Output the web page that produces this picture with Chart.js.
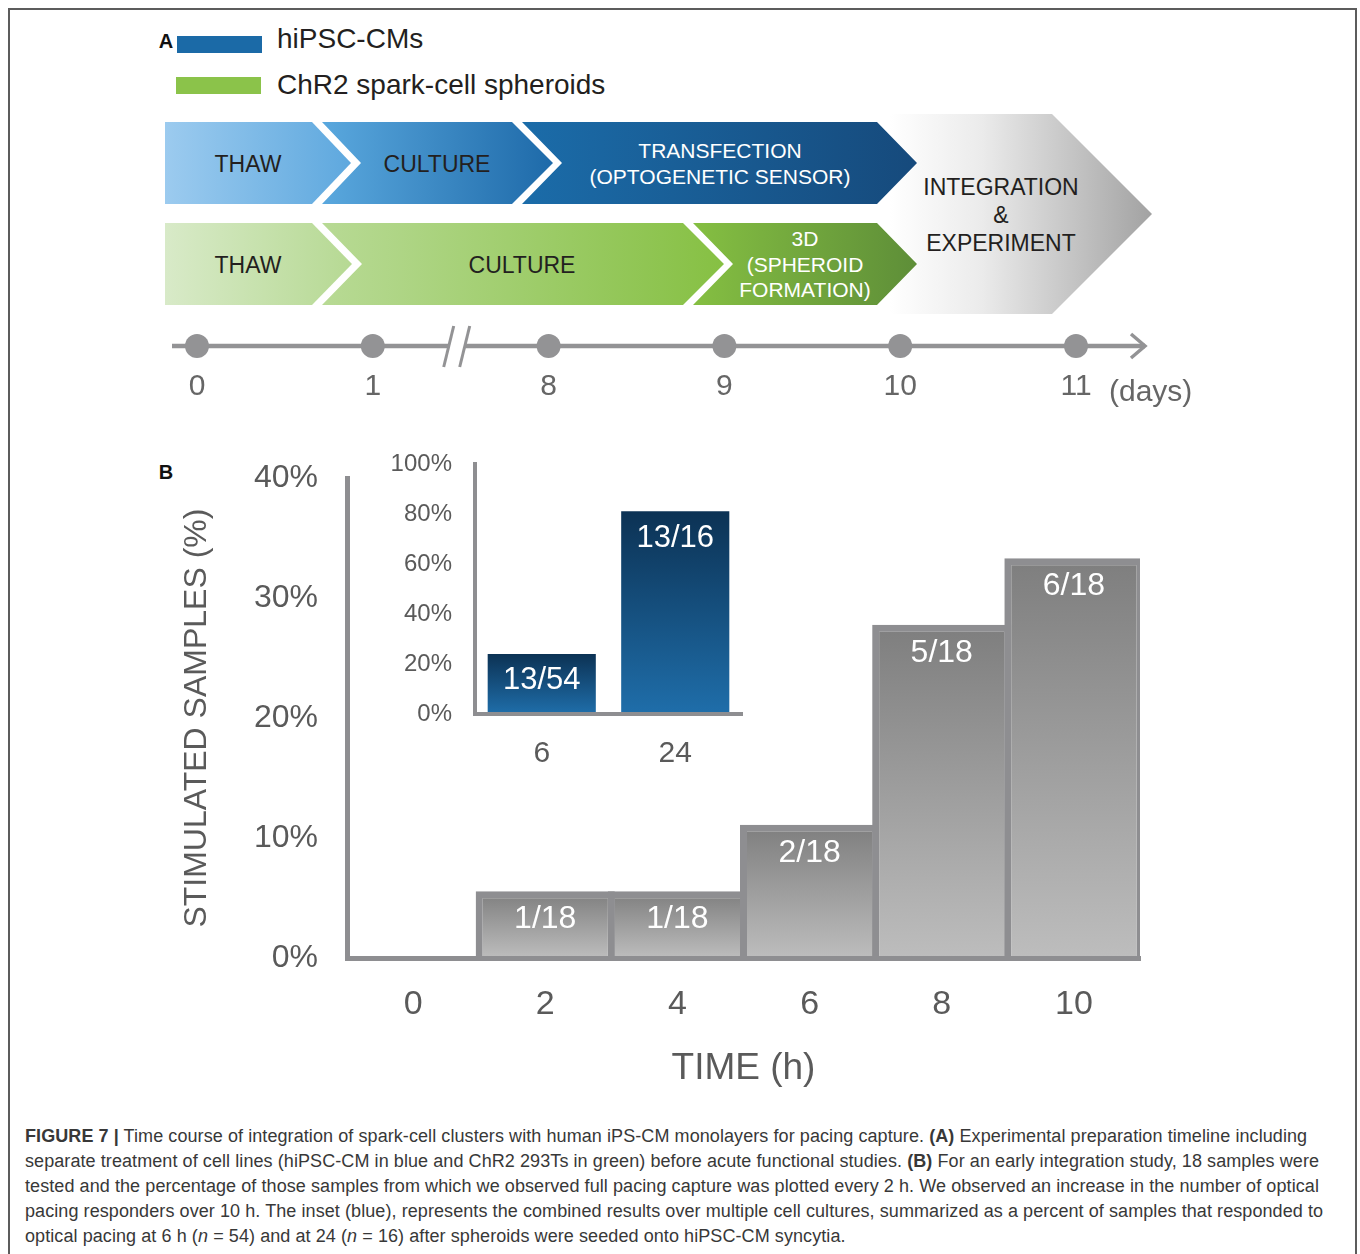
<!DOCTYPE html>
<html>
<head>
<meta charset="utf-8">
<script src="https://cdn.jsdelivr.net/npm/chart.js@4.4.0/dist/chart.umd.min.js"></script>
<style>
  body { margin: 0; background: #fff; font-family: 'Liberation Sans', Arial, sans-serif; }
  #page { position: relative; width: 1360px; height: 1254px; overflow: hidden; }
  .frame { position: absolute; left: 8px; top: 8px; width: 1349px; height: 1300px; border: 2px solid #5c5c5c; box-sizing: border-box; }
  .abs { position: absolute; }
  .lbl { position: absolute; transform: translate(-50%, -50%); text-align: center; white-space: nowrap; }
  .dark { color: #231f20; font-size: 23px; }
  .light { color: #fff; font-size: 21px; }
  .chev { position: absolute; }
  .caption { position: absolute; left: 25px; top: 1124px; font-size: 18px; letter-spacing: 0.08px; line-height: 25px; color: #383838; white-space: nowrap; }
  canvas { position: absolute; }
</style>
</head>
<body>
<div id="page">
  <div class="frame"></div>

  <!-- panel A: legend -->
  <div class="lbl" style="left:166px;top:41px;font-weight:bold;font-size:20px;color:#111;">A</div>
  <div class="abs" style="left:177px;top:36px;width:85px;height:17px;background:#1b6aa7;"></div>
  <div class="abs" style="left:176px;top:77px;width:85px;height:17px;background:#8bc34a;"></div>
  <div class="abs" style="left:277px;top:23px;font-size:28px;color:#231f20;">hiPSC-CMs</div>
  <div class="abs" style="left:277px;top:69px;font-size:28px;color:#231f20;">ChR2 spark-cell spheroids</div>

  <!-- panel A: chevrons -->
  <div class="chev" style="left:890px;top:114px;width:262px;height:200px;
       background:linear-gradient(to right,#ffffff 0%,#ebebeb 35%,#c4c4c4 70%,#a2a2a2 100%);
       clip-path:polygon(0 0,162px 0,100% 50%,162px 100%,0 100%);"></div>

  <div class="chev" style="left:165px;top:122px;width:186px;height:82px;
       background:linear-gradient(to right,#9ccbef,#5ea8de);
       clip-path:polygon(0 0,147px 0,100% 50%,147px 100%,0 100%);"></div>
  <div class="chev" style="left:322px;top:122px;width:231px;height:82px;
       background:linear-gradient(to right,#5aa8de,#1e6aa9);
       clip-path:polygon(0 0,190px 0,100% 50%,190px 100%,0 100%,39px 50%);"></div>
  <div class="chev" style="left:522px;top:122px;width:395px;height:82px;
       background:linear-gradient(to right,#1b6ca9,#164a7c);
       clip-path:polygon(0 0,355px 0,100% 50%,355px 100%,0 100%,40px 50%);"></div>

  <div class="chev" style="left:165px;top:223px;width:187px;height:82px;
       background:linear-gradient(to right,#d8eac8,#b6d993);
       clip-path:polygon(0 0,147px 0,100% 50%,147px 100%,0 100%);"></div>
  <div class="chev" style="left:322px;top:223px;width:402px;height:82px;
       background:linear-gradient(to right,#b8da95,#86c043);
       clip-path:polygon(0 0,361px 0,100% 50%,361px 100%,0 100%,40px 50%);"></div>
  <div class="chev" style="left:693px;top:223px;width:224px;height:82px;
       background:linear-gradient(to right,#85bf42,#5e8e38);
       clip-path:polygon(0 0,184px 0,100% 50%,184px 100%,0 100%,40px 50%);"></div>

  <div class="lbl dark" style="left:248px;top:164px;">THAW</div>
  <div class="lbl dark" style="left:437px;top:164px;">CULTURE</div>
  <div class="lbl light" style="left:720px;top:164px;line-height:26px;">TRANSFECTION<br>(OPTOGENETIC SENSOR)</div>
  <div class="lbl dark" style="left:248px;top:265px;">THAW</div>
  <div class="lbl dark" style="left:522px;top:265px;">CULTURE</div>
  <div class="lbl light" style="left:805px;top:264px;line-height:25.5px;">3D<br>(SPHEROID<br>FORMATION)</div>
  <div class="lbl dark" style="left:1001px;top:215px;line-height:28px;">INTEGRATION<br>&amp;<br>EXPERIMENT</div>

  <!-- panel A: timeline -->
  <canvas id="timeline" width="1080" height="110" style="left:150px;top:310px;"></canvas>
  <div class="abs" style="left:1109px;top:374px;font-size:30px;color:#666;">(days)</div>

  <!-- panel B -->
  <div class="lbl" style="left:166px;top:472px;font-weight:bold;font-size:20px;color:#111;">B</div>
  <canvas id="mainChart" width="1010" height="670" style="left:150px;top:430px;"></canvas>
  <canvas id="insetChart" width="400" height="353" style="left:370px;top:427px;"></canvas>

  <div class="caption">
    <b>FIGURE 7 |</b> Time course of integration of spark-cell clusters with human iPS-CM monolayers for pacing capture. <b>(A)</b> Experimental preparation timeline including<br>
    separate treatment of cell lines (hiPSC-CM in blue and ChR2 293Ts in green) before acute functional studies. <b>(B)</b> For an early integration study, 18 samples were<br>
    tested and the percentage of those samples from which we observed full pacing capture was plotted every 2 h. We observed an increase in the number of optical<br>
    pacing responders over 10 h. The inset (blue), represents the combined results over multiple cell cultures, summarized as a percent of samples that responded to<br>
    optical pacing at 6 h (<i>n</i> = 54) and at 24 (<i>n</i> = 16) after spheroids were seeded onto hiPSC-CM syncytia.
  </div>
</div>

<script>
// datos del grafico principal (muestras estimuladas cada 2 h)
const timeLabels = ['0', '2', '4', '6', '8', '10'];
const respondedSamples = [0, 1, 1, 2, 5, 6];
const testedSamples = [18, 18, 18, 18, 18, 18];

// datos del recuadro (azul)
const insetLabels = ['6', '24'];
const insetResponded = [13, 13];
const insetTested = [54, 16];

// linea de tiempo (dias)
const timelineDays = ['0', '1', '8', '9', '10', '11'];
const timelineMarks = [0, 0, 0, 0, 0, 0];

const FONT = "'Liberation Sans', Arial, sans-serif";
Chart.defaults.font.family = FONT;
Chart.defaults.animation = false;

const pct = (r, t) => r.map((v, i) => v / t[i] * 100);
const fractions = (r, t) => r.map((v, i) => v > 0 ? v + '/' + t[i] : '');

// etiquetas blancas dentro de cada barra
const fractionLabels = {
  id: 'fractionLabels',
  afterDatasetsDraw(chart, args, opts) {
    const ctx = chart.ctx;
    const meta = chart.getDatasetMeta(0);
    ctx.save();
    ctx.font = opts.font;
    ctx.fillStyle = '#ffffff';
    ctx.textAlign = 'center';
    ctx.textBaseline = 'middle';
    meta.data.forEach((bar, i) => {
      const txt = opts.labels[i];
      if (txt) ctx.fillText(txt, bar.x, bar.y + opts.offset);
    });
    ctx.restore();
  }
};

// degradado vertical por barra
const barGradient = (top, bottom) => (c) => {
  const chart = c.chart;
  if (!chart.chartArea) return top;
  const y = chart.scales.y;
  const g = chart.ctx.createLinearGradient(0, y.getPixelForValue(c.raw), 0, y.getPixelForValue(0));
  g.addColorStop(0, top);
  g.addColorStop(1, bottom);
  return g;
};

const AXIS = '#8e8e91';
const TEXT = '#5a5a5a';

// grafico principal
new Chart(document.getElementById('mainChart'), {
  type: 'bar',
  data: {
    labels: timeLabels,
    datasets: [{
      data: pct(respondedSamples, testedSamples),
      backgroundColor: barGradient('#7e7e7e', '#bdbdbd'),
      borderColor: AXIS,
      borderWidth: 7,
      borderSkipped: 'start',
      barPercentage: 1.053,
      categoryPercentage: 1
    }]
  },
  options: {
    responsive: false,
    layout: { padding: { top: 0, right: 20, left: 0, bottom: 0 } },
    plugins: {
      legend: { display: false },
      tooltip: { enabled: false },
      fractionLabels: { labels: fractions(respondedSamples, testedSamples), font: '32px ' + FONT, offset: 28 }
    },
    scales: {
      x: {
        grid: { display: false, drawTicks: false },
        border: { display: true, color: AXIS, width: 5, z: 1 },
        ticks: { color: TEXT, font: { size: 34 }, padding: 26 },
        title: { display: true, text: 'TIME (h)', color: TEXT, font: { size: 37 }, padding: { top: 0, bottom: 9 } },
        afterFit: (s) => { s.height = 142; }
      },
      y: {
        min: 0, max: 40,
        grid: { display: false, drawTicks: false },
        border: { display: true, color: AXIS, width: 5, z: 1 },
        ticks: { stepSize: 10, color: TEXT, font: { size: 32 }, padding: 29, callback: (v) => v + '%' },
        title: { display: true, text: 'STIMULATED SAMPLES (%)', color: TEXT, font: { size: 32 }, padding: { top: 28, bottom: 0 } },
        afterFit: (s) => { s.width = 197; }
      }
    }
  },
  plugins: [fractionLabels]
});

// recuadro azul (6 h y 24 h)
new Chart(document.getElementById('insetChart'), {
  type: 'bar',
  data: {
    labels: insetLabels,
    datasets: [{
      data: pct(insetResponded, insetTested),
      backgroundColor: barGradient('#0c3254', '#1f6eaa'),
      borderWidth: 0,
      barPercentage: 0.81,
      categoryPercentage: 1
    }]
  },
  options: {
    responsive: false,
    layout: { padding: { top: 0, right: 28, left: 0, bottom: 0 } },
    plugins: {
      legend: { display: false },
      tooltip: { enabled: false },
      fractionLabels: { labels: fractions(insetResponded, insetTested), font: '31px ' + FONT, offset: 27 }
    },
    scales: {
      x: {
        grid: { display: false, drawTicks: false },
        border: { display: true, color: AXIS, width: 4, z: 1 },
        ticks: { color: TEXT, font: { size: 30 }, padding: 22 },
        afterFit: (s) => { s.height = 66; }
      },
      y: {
        min: 0, max: 100,
        grid: { display: false, drawTicks: false },
        border: { display: true, color: AXIS, width: 4, z: 1 },
        ticks: { stepSize: 20, color: TEXT, font: { size: 24 }, padding: 23, callback: (v) => v + '%' },
        afterFit: (s) => { s.width = 105; }
      }
    }
  },
  plugins: [fractionLabels]
});

// eje de la linea de tiempo con flecha y corte
const timelineAxis = {
  id: 'timelineAxis',
  beforeDatasetsDraw(chart) {
    const ctx = chart.ctx;
    const area = chart.chartArea;
    const y0 = chart.scales.y.getPixelForValue(0);
    const pts = chart.getDatasetMeta(0).data;
    const xEnd = area.right + 69;
    ctx.save();
    ctx.strokeStyle = '#939395';
    ctx.lineWidth = 4.5;
    ctx.beginPath();
    ctx.moveTo(area.left - 25, y0);
    ctx.lineTo(xEnd, y0);
    ctx.stroke();
    ctx.lineWidth = 3.5;
    ctx.beginPath();
    ctx.moveTo(xEnd - 14, y0 - 12);
    ctx.lineTo(xEnd, y0);
    ctx.lineTo(xEnd - 14, y0 + 12);
    ctx.stroke();
    // corte entre dia 1 y dia 8
    const xm = (pts[1].x + pts[2].x) / 2 - 3;
    ctx.fillStyle = '#ffffff';
    ctx.beginPath();
    ctx.moveTo(xm - 10, y0 + 8);
    ctx.lineTo(xm + 6, y0 + 8);
    ctx.lineTo(xm + 10, y0 - 8);
    ctx.lineTo(xm - 6, y0 - 8);
    ctx.closePath();
    ctx.fill();
    ctx.lineWidth = 3;
    [-9, 7].forEach((dx) => {
      ctx.beginPath();
      ctx.moveTo(xm + dx - 5, y0 + 21);
      ctx.lineTo(xm + dx + 5, y0 - 20);
      ctx.stroke();
    });
    ctx.restore();
  }
};

new Chart(document.getElementById('timeline'), {
  type: 'line',
  data: {
    labels: timelineDays,
    datasets: [{
      data: timelineMarks,
      showLine: false,
      clip: false,
      pointRadius: 12,
      pointBackgroundColor: '#939395',
      pointBorderWidth: 0
    }]
  },
  options: {
    responsive: false,
    layout: { padding: { top: 16, right: 154, left: 47, bottom: 0 } },
    plugins: { legend: { display: false }, tooltip: { enabled: false } },
    scales: {
      x: {
        offset: false,
        grid: { display: false, drawTicks: false },
        border: { display: false },
        ticks: { color: '#666', font: { size: 30 }, padding: 3, autoSkip: false, maxRotation: 0 },
        afterFit: (s) => { s.height = 54; }
      },
      y: { display: false, min: -1, max: 1 }
    }
  },
  plugins: [timelineAxis]
});
</script>
</body>
</html>
